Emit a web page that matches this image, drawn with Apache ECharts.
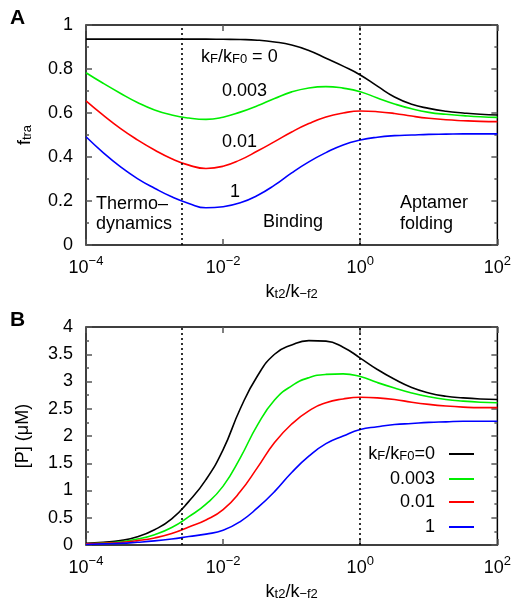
<!DOCTYPE html>
<html>
<head>
<meta charset="utf-8">
<script src="https://cdn.jsdelivr.net/npm/echarts@6/dist/echarts.min.js"></script>
<style>html,body{margin:0;padding:0;background:#fff}#c{width:514px;height:602px}</style>
</head>
<body>
<div id="c"></div>
<script>
// ---- data ----
// x positions given as log10(k_t2/k_-f2), quarter-decade steps from 1e-4 to 1e2
var xExp = [-4, -3.75, -3.5, -3.25, -3, -2.75, -2.5, -2.25, -2, -1.75, -1.5, -1.25, -1,
            -0.75, -0.5, -0.25, 0, 0.25, 0.5, 0.75, 1, 1.25, 1.5, 1.75, 2];
var seriesNames = ['kF/kF0=0', '0.003', '0.01', '1'];
var seriesColors = ['#000000', '#00ee00', '#ff0000', '#0000ff'];
// Panel A: f_tra
var fTra0    = [0.936, 0.936, 0.936, 0.936, 0.936, 0.936, 0.936, 0.936, 0.935, 0.934, 0.931, 0.923, 0.909,
                0.884, 0.849, 0.813, 0.773, 0.722, 0.673, 0.640, 0.621, 0.608, 0.600, 0.594, 0.591];
var fTra0003 = [0.783, 0.735, 0.690, 0.648, 0.614, 0.591, 0.577, 0.571, 0.581, 0.604, 0.633, 0.666, 0.696,
                0.714, 0.720, 0.713, 0.697, 0.668, 0.641, 0.619, 0.603, 0.594, 0.588, 0.583, 0.580];
var fTra001  = [0.655, 0.590, 0.530, 0.478, 0.432, 0.392, 0.363, 0.348, 0.358, 0.387, 0.427, 0.470, 0.514,
                0.552, 0.582, 0.600, 0.609, 0.606, 0.598, 0.586, 0.576, 0.569, 0.565, 0.562, 0.561];
var fTra1    = [0.492, 0.420, 0.356, 0.302, 0.258, 0.219, 0.189, 0.169, 0.174, 0.192, 0.225, 0.272, 0.328,
                0.378, 0.420, 0.455, 0.477, 0.490, 0.497, 0.500, 0.503, 0.504, 0.505, 0.505, 0.505];
// Panel B: [P] (uM)
var p0       = [0.03, 0.05, 0.08, 0.15, 0.28, 0.48, 0.80, 1.20, 1.75, 2.50, 3.10, 3.50, 3.67,
                3.75, 3.74, 3.63, 3.43, 3.22, 3.04, 2.89, 2.79, 2.73, 2.70, 2.68, 2.67];
var p0003    = [0.02, 0.035, 0.06, 0.11, 0.19, 0.32, 0.52, 0.75, 1.08, 1.60, 2.20, 2.66, 2.92,
                3.07, 3.13, 3.14, 3.09, 2.98, 2.88, 2.79, 2.72, 2.67, 2.64, 2.62, 2.61];
var p001     = [0.02, 0.03, 0.045, 0.08, 0.13, 0.21, 0.33, 0.46, 0.65, 0.98, 1.42, 1.88, 2.22,
                2.46, 2.61, 2.68, 2.71, 2.70, 2.67, 2.62, 2.58, 2.55, 2.53, 2.52, 2.52];
var p1       = [0.01, 0.02, 0.03, 0.05, 0.075, 0.11, 0.155, 0.20, 0.27, 0.43, 0.68, 0.98, 1.33,
                1.63, 1.86, 2.00, 2.12, 2.17, 2.21, 2.23, 2.25, 2.26, 2.27, 2.27, 2.27];
// dotted region dividers, log10 of k_t2/k_-f2 (about 0.0025 and 1)
var dividersExp = [-2.6, 0];
var xTickExp = [-4, -2, 0, 2];

// ---- chart ----
var FONT = 'Liberation Sans, Arial, Helvetica, sans-serif';
var chart = echarts.init(document.getElementById('c'), null, {renderer: 'canvas'});

function pairs(ys) { return xExp.map(function (x, i) { return [x, ys[i]]; }); }

var supRich = {
  b: {fontSize: 18, fontFamily: FONT, color: '#000', lineHeight: 22, verticalAlign: 'bottom'},
  e: {fontSize: 13, fontFamily: FONT, color: '#000', lineHeight: 11, verticalAlign: 'top'}
};
var subRich = {
  n: {fontSize: 18, fontFamily: FONT, color: '#000', lineHeight: 18, verticalAlign: 'top'},
  s: {fontSize: 13, fontFamily: FONT, color: '#000', lineHeight: 10, verticalAlign: 'bottom'}
};
var tickStyle = {color: '#555', width: 1.5};

function xAxisMain(gridIndex) {
  return {
    type: 'value', gridIndex: gridIndex, min: xTickExp[0], max: xTickExp[xTickExp.length - 1], interval: 2,
    position: 'bottom',
    axisLine: {show: false, onZero: false},
    axisTick: {show: true, inside: true, length: 6, lineStyle: tickStyle},
    minorTick: {show: false},
    splitLine: {show: false},
    axisLabel: {
      margin: 10,
      formatter: function (e) {
        return '{b|10}{e|' + (e < 0 ? '\u2212' + (-e) : e) + '}';
      },
      rich: supRich
    },
    name: '{n|k}{s|t2}{n|/k}{s|\u2212f2}',
    nameLocation: 'middle', nameGap: 38,
    nameTextStyle: {rich: subRich}
  };
}
function xAxisTop(gridIndex) {
  return {
    type: 'value', gridIndex: gridIndex, min: xTickExp[0], max: xTickExp[xTickExp.length - 1], interval: 2,
    position: 'top',
    axisLine: {show: false, onZero: false},
    axisTick: {show: true, inside: true, length: 6, lineStyle: tickStyle},
    axisLabel: {show: false}, splitLine: {show: false}
  };
}
function yAxisMain(gridIndex, max, interval, name, labelFmt, gap) {
  return {
    type: 'value', gridIndex: gridIndex, min: 0, max: max, interval: interval,
    position: 'left',
    axisLine: {show: false, onZero: false},
    axisTick: {show: true, inside: true, length: 6, lineStyle: tickStyle},
    minorTick: {show: true, splitNumber: 2, length: 3, lineStyle: tickStyle},
    splitLine: {show: false},
    axisLabel: {margin: 13, fontSize: 18, fontFamily: FONT, color: '#000', formatter: labelFmt},
    name: name, nameLocation: 'middle', nameRotate: 90, nameGap: gap,
    nameTextStyle: {rich: subRich}
  };
}
function yAxisRight(gridIndex, max, interval) {
  return {
    type: 'value', gridIndex: gridIndex, min: 0, max: max, interval: interval,
    position: 'right',
    axisLine: {show: false, onZero: false},
    axisTick: {show: true, inside: true, length: 6, lineStyle: tickStyle},
    minorTick: {show: true, splitNumber: 2, length: 3, lineStyle: tickStyle},
    splitLine: {show: false}, axisLabel: {show: false}
  };
}

var seriesA = [fTra0, fTra0003, fTra001, fTra1];
var seriesB = [p0, p0003, p001, p1];
var series = [];
function addSeries(list, xi, yi) {
  list.forEach(function (ys, i) {
    var s = {
      type: 'line', name: seriesNames[i], xAxisIndex: xi, yAxisIndex: yi,
      data: pairs(ys), smooth: 0.5, showSymbol: false, symbol: 'none',
      lineStyle: {color: seriesColors[i], width: 1.6}, itemStyle: {color: seriesColors[i]},
      z: 3, animation: false
    };
    if (i === 0) {
      s.markLine = {
        silent: true, symbol: 'none', animation: false,
        label: {show: false},
        lineStyle: {color: '#000', type: [2, 3], width: 1.6},
        data: dividersExp.map(function (d) { return {xAxis: d}; })
      };
    }
    series.push(s);
  });
}
addSeries(seriesA, 0, 0);
addSeries(seriesB, 2, 2);

var legendTops = [445, 470, 493, 518];
var legends = seriesNames.map(function (n, i) {
  return {
    data: [{name: n, icon: 'rect'}], right: 40, top: legendTops[i], orient: 'horizontal',
    align: 'right', itemWidth: 25, itemHeight: 2, padding: 0, selectedMode: false,
    formatter: function (name) {
      return name === 'kF/kF0=0' ? '{n|k}{s|F}{n|/k}{s|F0}{n|=0}' : '{n|' + name + '}';
    },
    textStyle: {padding: [0, 9, 0, 0], rich: subRich}
  };
});

function txt(x, y, text, extra) {
  var st = {x: x, y: y, text: text, fill: '#000', font: '18px ' + FONT, verticalAlign: 'middle'};
  if (extra) for (var k in extra) st[k] = extra[k];
  return {type: 'text', style: st, z: 10};
}

var option = {
  animation: false,
  grid: [
    {left: 86, top: 25, width: 413, height: 220, show: true, borderColor: '#000', borderWidth: 1.5, backgroundColor: 'transparent'},
    {left: 86, top: 327, width: 413, height: 219, show: true, borderColor: '#000', borderWidth: 1.5, backgroundColor: 'transparent'}
  ],
  xAxis: [xAxisMain(0), xAxisTop(0), xAxisMain(1), xAxisTop(1)],
  yAxis: [
    yAxisMain(0, 1, 0.2, '{n|f}{s|tra}', function (v) { return String(+v.toFixed(1)); }, 52),
    yAxisRight(0, 1, 0.2),
    yAxisMain(1, 4, 0.5, '{n|[P] (\u03bcM)}', function (v) { return String(v); }, 54),
    yAxisRight(1, 4, 0.5)
  ],
  legend: legends,
  series: series,
  graphic: [
    txt(10, 18, 'A', {font: 'bold 21px ' + FONT}),
    txt(10, 320, 'B', {font: 'bold 21px ' + FONT}),
    txt(201, 57, '{n|k}{s|F}{n|/k}{s|F0}{n| = 0}', {rich: subRich}),
    txt(222, 91, '0.003'),
    txt(222, 142, '0.01'),
    txt(230, 192, '1'),
    txt(96, 204, 'Thermo\u2013'),
    txt(96, 224, 'dynamics'),
    txt(263, 222, 'Binding'),
    txt(400, 203, 'Aptamer'),
    txt(400, 224, 'folding')
  ]
};
chart.setOption(option);
</script>
</body>
</html>
